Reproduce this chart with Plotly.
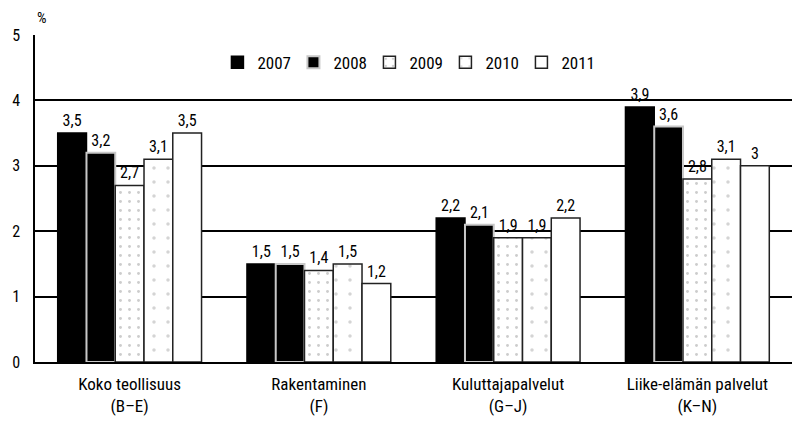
import plotly.graph_objects as go

categories = ["Koko teollisuus<br>(B–E)", "Rakentaminen<br>(F)",
              "Kuluttajapalvelut<br>(G–J)", "Liike-elämän palvelut<br>(K–N)"]
years = ["2007", "2008", "2009", "2010", "2011"]
v2007 = [3.5, 1.5, 2.2, 3.9]
v2008 = [3.2, 1.5, 2.1, 3.6]
v2009 = [2.7, 1.4, 1.9, 2.8]
v2010 = [3.1, 1.5, 1.9, 3.1]
v2011 = [3.5, 1.2, 2.2, 3.0]
series = [v2007, v2008, v2009, v2010, v2011]
y_ticks = [0, 1, 2, 3, 4, 5]

FONT = "Liberation Sans Narrow, Roboto Condensed, Arial Narrow, Roboto, sans-serif"

styles = [
    dict(color="black", line=dict(color="black", width=1.5)),
    dict(color="black", line=dict(color="#c8c8c8", width=2)),
    dict(color="white", line=dict(color="#222", width=1.5),
         pattern=dict(shape=".", fgcolor="#999", bgcolor="white", size=9, solidity=0.08)),
    dict(color="white", line=dict(color="#222", width=1.5),
         pattern=dict(shape=".", fgcolor="#aaa", bgcolor="white", size=14, solidity=0.05)),
    dict(color="white", line=dict(color="#222", width=1.5)),
]

def fmt(v):
    return f"{v:g}".replace(".", ",")

fig = go.Figure()
for name, vals, st in zip(years, series, styles):
    fig.add_trace(go.Bar(
        x=categories, y=vals, name=name, marker=st,
        text=[fmt(v) for v in vals], textposition="outside", cliponaxis=False,
        textfont=dict(size=16, color="black", family=FONT),
    ))

fig.update_layout(
    width=792, height=422,
    margin=dict(l=35, r=0, t=35, b=60, autoexpand=False),
    paper_bgcolor="white", plot_bgcolor="white",
    barmode="group", bargap=0.24, bargroupgap=0,
    font=dict(family=FONT, size=15, color="black"),
    showlegend=True,
    legend=dict(orientation="h", x=0.241, y=0.915, xanchor="left", yanchor="middle",
                font=dict(size=17), bgcolor="rgba(0,0,0,0)", entrywidth=31,
                itemwidth=30, traceorder="normal"),
    yaxis=dict(range=[0, 5], tickvals=y_ticks, ticktext=[str(t) for t in y_ticks],
               showgrid=True, gridcolor="black", gridwidth=1.5,
               showline=True, linecolor="black", linewidth=1.5,
               ticks="", tickfont=dict(size=16), zeroline=False,
               ticklabelstandoff=10),
    xaxis=dict(showline=True, linecolor="black", linewidth=1.5, ticks="",
               tickfont=dict(size=17), ticklabelstandoff=6),
    annotations=[dict(text="%", x=0, y=1, xref="paper", yref="paper",
                      xanchor="left", yanchor="bottom", xshift=0, yshift=6,
                      showarrow=False, font=dict(size=15, family=FONT))],
)

fig.write_html("out.html", config={"displayModeBar": False},
               post_script="document.body.style.margin='0';")
